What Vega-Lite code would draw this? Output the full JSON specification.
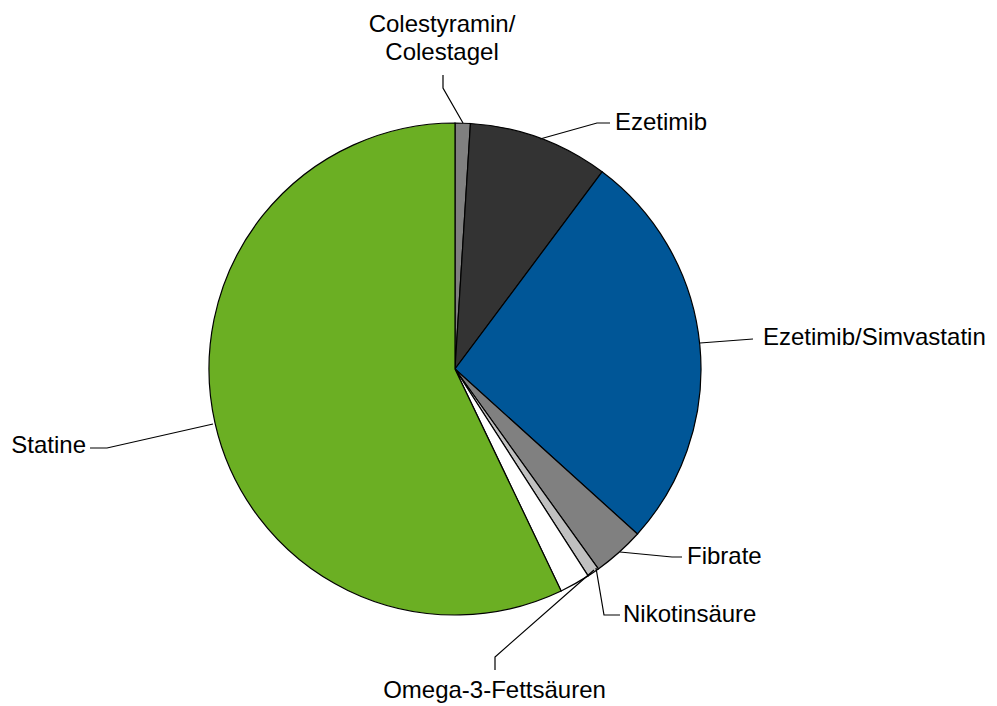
{
  "$schema": "https://vega.github.io/schema/vega-lite/v6.json",
  "width": 910,
  "height": 674,
  "autosize": {"type": "none"},
  "padding": {"left": 0, "top": 32, "right": 87, "bottom": 0},
  "background": "white",
  "config": {"view": {"stroke": null}},
  "datasets": {
    "slices": [
      {"group": "Colestyramin/Colestagel", "share": 1.0, "order": 1},
      {"group": "Ezetimib", "share": 9.2, "order": 2},
      {"group": "Ezetimib/Simvastatin", "share": 26.5, "order": 3},
      {"group": "Fibrate", "share": 3.4, "order": 4},
      {"group": "Nikotinsäure", "share": 0.8, "order": 5},
      {"group": "Omega-3-Fettsäuren", "share": 2.0, "order": 6},
      {"group": "Statine", "share": 57.1, "order": 7}
    ],
    "leaders": [
      {"group": "Colestyramin/Colestagel", "step": 1, "x": 0.0325, "y": 1.0},
      {"group": "Colestyramin/Colestagel", "step": 2, "x": -0.0488, "y": 1.1423},
      {"group": "Colestyramin/Colestagel", "step": 3, "x": -0.0488, "y": 1.1951},
      {"group": "Ezetimib", "step": 1, "x": 0.3455, "y": 0.935},
      {"group": "Ezetimib", "step": 2, "x": 0.5772, "y": 1.0},
      {"group": "Ezetimib", "step": 3, "x": 0.6301, "y": 1.0},
      {"group": "Ezetimib/Simvastatin", "step": 1, "x": 0.9959, "y": 0.1057},
      {"group": "Ezetimib/Simvastatin", "step": 2, "x": 1.2114, "y": 0.122},
      {"group": "Fibrate", "step": 1, "x": 0.6707, "y": -0.7439},
      {"group": "Fibrate", "step": 2, "x": 0.8821, "y": -0.7642},
      {"group": "Fibrate", "step": 3, "x": 0.9228, "y": -0.7642},
      {"group": "Nikotinsäure", "step": 1, "x": 0.5732, "y": -0.8089},
      {"group": "Nikotinsäure", "step": 2, "x": 0.6057, "y": -1.0},
      {"group": "Nikotinsäure", "step": 3, "x": 0.6707, "y": -1.0},
      {"group": "Omega-3-Fettsäuren", "step": 1, "x": 0.565, "y": -0.817},
      {"group": "Omega-3-Fettsäuren", "step": 2, "x": 0.1626, "y": -1.1707},
      {"group": "Omega-3-Fettsäuren", "step": 3, "x": 0.1626, "y": -1.2236},
      {"group": "Statine", "step": 1, "x": -0.9837, "y": -0.2236},
      {"group": "Statine", "step": 2, "x": -1.4146, "y": -0.3211},
      {"group": "Statine", "step": 3, "x": -1.4837, "y": -0.3211}
    ],
    "labels": [
      {"group": "Colestyramin/Colestagel", "label": "Colestyramin/\nColestagel", "x": -0.0528, "y": 1.3964},
      {"group": "Ezetimib", "label": "Ezetimib", "x": 0.6504, "y": 1.002},
      {"group": "Ezetimib/Simvastatin", "label": "Ezetimib/Simvastatin", "x": 1.252, "y": 0.124},
      {"group": "Fibrate", "label": "Fibrate", "x": 0.943, "y": -0.764},
      {"group": "Nikotinsäure", "label": "Nikotinsäure", "x": 0.683, "y": -0.998},
      {"group": "Omega-3-Fettsäuren", "label": "Omega-3-Fettsäuren", "x": 0.1606, "y": -1.307},
      {"group": "Statine", "label": "Statine", "x": -1.5, "y": -0.315}
    ]
  },
  "layer": [
    {
      "data": {"name": "slices"},
      "mark": {"type": "arc", "outerRadius": 246, "stroke": "black", "strokeWidth": 1.2},
      "encoding": {
        "theta": {"field": "share", "type": "quantitative", "stack": true},
        "order": {"field": "order", "type": "quantitative"},
        "color": {
          "field": "group",
          "type": "nominal",
          "scale": {
            "domain": ["Colestyramin/Colestagel", "Ezetimib", "Ezetimib/Simvastatin", "Fibrate", "Nikotinsäure", "Omega-3-Fettsäuren", "Statine"],
            "range": ["#808080", "#333333", "#005697", "#808080", "#c0c0c0", "#ffffff", "#6baf23"]
          },
          "legend": null
        }
      }
    },
    {
      "data": {"name": "leaders"},
      "mark": {"type": "line", "color": "black", "strokeWidth": 1.2},
      "encoding": {
        "x": {"field": "x", "type": "quantitative", "scale": {"domain": [-1.8496, 1.8496], "nice": false, "zero": false}, "axis": null},
        "y": {"field": "y", "type": "quantitative", "scale": {"domain": [-1.3699, 1.3699], "nice": false, "zero": false}, "axis": null},
        "detail": {"field": "group", "type": "nominal"},
        "order": {"field": "step", "type": "quantitative"}
      }
    },
    {
      "data": {"name": "labels"},
      "transform": [{"filter": {"field": "group", "oneOf": ["Ezetimib", "Ezetimib/Simvastatin", "Fibrate", "Nikotinsäure"]}}],
      "mark": {"type": "text", "align": "left", "baseline": "middle", "font": "Liberation Sans", "fontSize": 24, "color": "black"},
      "encoding": {
        "x": {"field": "x", "type": "quantitative", "scale": {"domain": [-1.8496, 1.8496], "nice": false, "zero": false}, "axis": null},
        "y": {"field": "y", "type": "quantitative", "scale": {"domain": [-1.3699, 1.3699], "nice": false, "zero": false}, "axis": null},
        "text": {"field": "label", "type": "nominal"}
      }
    },
    {
      "data": {"name": "labels"},
      "transform": [{"filter": {"field": "group", "oneOf": ["Colestyramin/Colestagel", "Omega-3-Fettsäuren"]}}],
      "mark": {"type": "text", "align": "center", "baseline": "middle", "font": "Liberation Sans", "fontSize": 24, "lineHeight": 28, "lineBreak": "\n", "color": "black"},
      "encoding": {
        "x": {"field": "x", "type": "quantitative", "scale": {"domain": [-1.8496, 1.8496], "nice": false, "zero": false}, "axis": null},
        "y": {"field": "y", "type": "quantitative", "scale": {"domain": [-1.3699, 1.3699], "nice": false, "zero": false}, "axis": null},
        "text": {"field": "label", "type": "nominal"}
      }
    },
    {
      "data": {"name": "labels"},
      "transform": [{"filter": {"field": "group", "equal": "Statine"}}],
      "mark": {"type": "text", "align": "right", "baseline": "middle", "font": "Liberation Sans", "fontSize": 24, "color": "black"},
      "encoding": {
        "x": {"field": "x", "type": "quantitative", "scale": {"domain": [-1.8496, 1.8496], "nice": false, "zero": false}, "axis": null},
        "y": {"field": "y", "type": "quantitative", "scale": {"domain": [-1.3699, 1.3699], "nice": false, "zero": false}, "axis": null},
        "text": {"field": "label", "type": "nominal"}
      }
    }
  ]
}
